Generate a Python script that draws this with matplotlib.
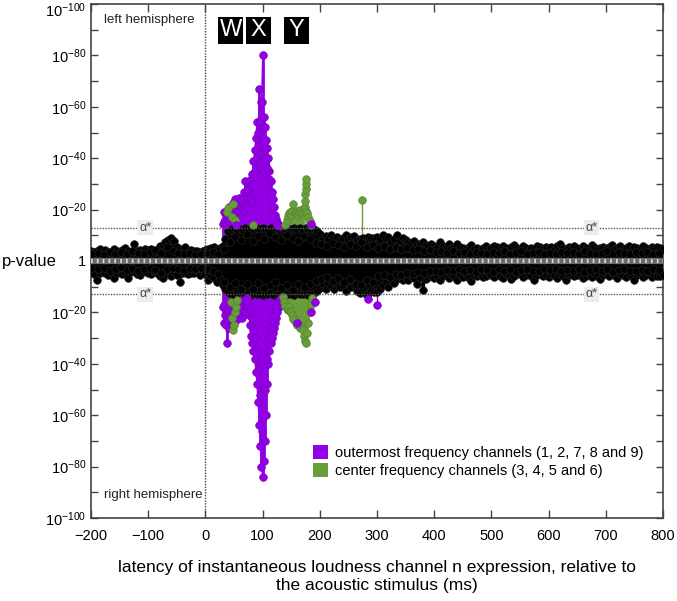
import numpy as np
import matplotlib
matplotlib.use('Agg')
import matplotlib.pyplot as plt
from matplotlib.patches import Rectangle, Patch
from matplotlib.transforms import ScaledTranslation

plt.rcParams['font.family'] = ['Liberation Sans', 'DejaVu Sans']
plt.rcParams['mathtext.fontset'] = 'custom'
plt.rcParams['mathtext.rm'] = 'Liberation Sans'
plt.rcParams['mathtext.it'] = 'Liberation Sans'

# -log10(p), positive = left hemisphere, negative = right hemisphere
alpha_star = 13.0

# non-significant channels (black), 5 ms grid
t_black = np.arange(-200, 801, 5)
left_black = [
    4.0, 3.4, 3.8, 4.5, 3.2, 4.3, 3.6, 3.2, 4.6, 3.9, 3.5, 4.1, 5.0, 3.7, 3.3, 6.8, 3.9, 4.4, 3.4, 4.6,
    4.2, 4.7, 3.6, 4.0, 5.8, 6.4, 7.2, 8.0, 9.0, 7.8, 5.5, 4.8, 4.3, 5.3, 3.6, 4.1, 3.8, 4.0, 3.4, 3.7,
    4.2, 4.6, 5.0, 5.5, 4.8, 5.2, 6.0, 8.5, 11.5, 12.5, 12.8, 12.2, 12.6, 12.0, 12.8, 12.4, 12.9, 12.5, 12.7, 12.3,
    12.8, 12.6, 12.2, 12.9, 12.4, 12.7, 12.0, 12.5, 12.8, 12.3, 12.6, 12.9, 12.4, 12.7, 12.2, 12.8, 12.5, 12.6, 12.3, 11.8,
    10.5, 9.0, 9.8, 8.5, 10.2, 8.8, 9.5, 8.0, 8.8, 10.0, 8.5, 9.2, 9.6, 8.0, 8.6, 9.0, 8.2, 9.5, 8.8, 9.0,
    9.2, 8.5, 10.0, 8.8, 9.3, 7.5, 8.4, 10.2, 7.8, 9.0, 8.2, 7.5, 7.0, 7.8, 6.5, 6.8, 7.5, 6.2, 5.8, 6.5,
    6.0, 5.4, 7.2, 5.8, 5.2, 6.5, 5.0, 5.6, 6.8, 5.3, 5.0, 4.8, 5.5, 6.2, 4.6, 5.1, 4.4, 5.0, 5.8, 4.7,
    5.2, 6.0, 5.5, 4.8, 5.9, 5.0, 4.6, 5.4, 6.3, 5.1, 4.5, 5.7, 5.0, 4.3, 5.2, 4.8, 6.0, 5.3, 4.6, 5.5,
    4.9, 5.6, 4.4, 5.8, 6.6, 5.0, 4.5, 5.3, 4.8, 5.9, 5.2, 4.6, 5.7, 5.0, 4.4, 6.1, 5.4, 4.7, 5.1, 5.6,
    4.8, 5.3, 6.2, 4.5, 5.0, 5.7, 4.6, 5.2, 5.9, 4.7, 5.4, 5.0, 4.5, 5.8, 5.1, 4.6, 5.3, 4.9, 5.6, 5.0,
    4.8]
right_black = [
    -4.2, -5.0, -7.5, -4.5, -3.8, -4.8, -5.5, -4.0, -6.8, -4.6, -3.9, -5.2, -4.4, -6.5, -4.1, -3.7, -4.9, -5.6, -4.3, -3.8,
    -4.6, -5.2, -4.0, -4.8, -6.0, -6.6, -5.0, -4.4, -5.8, -4.2, -5.5, -8.0, -4.8, -4.3, -5.0, -4.6, -4.8, -3.9, -5.3, -4.1,
    -5.0, -7.4, -5.8, -6.5, -8.2, -7.0, -9.5, -10.8, -12.0, -12.8, -13.2, -12.5, -13.0, -12.4, -13.3, -12.8, -13.1, -12.6, -13.0, -12.7,
    -13.2, -12.9, -13.0, -12.5, -13.3, -12.8, -12.6, -13.1, -12.4, -13.0, -12.7, -13.2, -12.5, -12.9, -13.0, -12.6, -13.1, -12.8, -12.4, -11.8,
    -10.5, -9.0, -10.8, -8.5, -9.8, -11.0, -8.8, -10.2, -9.5, -11.5, -8.0, -10.0, -9.2, -11.8, -12.5, -10.5, -12.8, -13.0, -11.2, -12.0,
    -12.2, -11.0, -9.5, -8.0, -10.0, -7.5, -8.6, -7.0, -6.8, -7.5, -6.5, -7.2, -6.0, -6.8, -9.0, -6.4, -11.3, -7.0, -6.2, -5.8,
    -6.5, -5.8, -7.2, -6.0, -5.4, -6.8, -5.2, -6.0, -7.5, -5.6, -6.2, -5.0, -6.6, -7.8, -5.5, -6.0, -5.2, -6.4, -5.8, -5.0,
    -5.5, -6.2, -4.8, -5.8, -6.8, -5.0, -5.4, -7.0, -6.0, -5.2, -4.6, -6.4, -5.6, -5.0, -6.0, -7.2, -5.3, -4.8, -5.9, -5.5,
    -6.2, -5.0, -5.6, -6.8, -4.9, -5.8, -7.4, -5.3, -5.0, -6.0, -5.5, -4.8, -6.5, -5.7, -5.1, -6.3, -4.7, -5.9, -7.0, -5.4,
    -5.2, -6.0, -4.8, -5.6, -6.6, -5.0, -5.5, -6.2, -4.9, -5.8, -7.2, -5.3, -5.0, -6.1, -5.6, -4.8, -6.4, -5.2, -5.9, -6.0,
    -5.5]

# second set of black channels, 10 ms grid shifted by 2.5 ms
t_black2 = np.arange(-197.5, 800, 10)
left_black2 = [
    2.8, 3.2, 2.5, 3.6, 2.9, 3.4, 2.6, 3.8, 3.0, 2.7, 3.5, 4.2, 3.1, 5.5, 4.0, 3.3, 2.6, 3.0, 2.4, 2.9,
    3.1, 3.6, 2.8, 4.5, 7.5, 9.5, 8.2, 10.5, 7.8, 9.8, 8.6, 10.8, 9.2, 8.0, 10.2, 9.0, 7.6, 9.6, 8.4, 7.0,
    6.5, 5.8, 7.0, 6.2, 5.5, 6.8, 6.0, 7.2, 5.6, 6.4, 5.2, 6.0, 4.8, 5.5, 4.6, 5.0, 4.2, 4.8, 3.9, 4.4,
    3.6, 4.0, 3.3, 3.8, 3.0, 3.5, 2.8, 3.6, 3.2, 2.7, 3.4, 3.0, 3.7, 2.9, 3.3, 3.9, 2.6, 3.1, 3.5, 2.8,
    3.2, 2.7, 3.6, 3.0, 3.4, 2.8, 3.7, 3.1, 2.6, 3.3, 3.8, 2.9, 3.5, 3.0, 2.7, 3.4, 3.1, 3.6, 2.8, 3.2]
right_black2 = [
    -2.8, -3.3, -2.6, -3.7, -3.0, -2.5, -3.4, -2.9, -3.8, -3.1, -2.7, -3.5, -4.5, -3.0, -2.6, -3.2, -3.6, -2.8, -3.1, -2.7,
    -3.3, -4.0, -5.2, -8.0, -10.0, -8.6, -10.8, -9.0, -11.0, -8.4, -10.4, -9.2, -8.0, -10.6, -9.4, -11.2, -8.8, -10.0, -9.0, -7.6,
    -7.0, -6.2, -7.8, -6.5, -8.2, -7.0, -8.8, -9.5, -7.5, -8.0, -6.0, -5.5, -6.2, -5.0, -5.6, -4.6, -5.2, -4.4, -4.8, -4.0,
    -3.8, -4.2, -3.5, -4.0, -3.2, -3.9, -3.4, -4.4, -3.0, -3.6, -4.1, -3.3, -3.8, -3.1, -4.3, -3.5, -3.0, -3.7, -4.0, -3.2,
    -3.6, -3.1, -4.0, -3.4, -3.8, -3.0, -4.2, -3.5, -3.2, -3.9, -3.3, -4.1, -3.6, -3.0, -3.7, -4.0, -3.4, -3.8, -3.1, -3.5]

# outermost frequency channels (purple)
t_purple_left = np.arange(30, 131, 2)
purple_left = [
    14.5, 19, 16, 18, 19.5, 17, 21, 18.5, 20, 22.5, 21, 24, 19, 22, 24.5, 23, 21.5, 23.5, 25, 27,
    31, 26, 28, 30, 31.5, 29, 34, 39, 43, 48, 54, 50, 67, 54, 62, 80, 56, 52, 47, 44,
    40, 35, 31, 27, 24, 21, 18, 16.5, 15, 14, 13.5]
t_purple_left2 = np.arange(33, 127, 3)
purple_left2 = [
    15, 14.5, 16, 15.5, 17, 16, 18, 17, 19, 18, 17.5, 20, 22, 21, 24, 25, 23, 30, 35, 40,
    45, 42, 62, 46, 38, 36, 32, 26, 21, 17, 15, 14]
t_purple_right = np.arange(30, 137, 2)
purple_right = [
    -18, -24, -21, -25, -32, -23, -26, -22, -25, -21, -24, -20, -23, -19, -22, -18, -21, -22, -19, -17,
    -20, -16, -18, -21, -25, -29, -32, -35, -38, -43, -48, -55, -64, -72, -80, -84, -78, -70, -60, -48,
    -40, -35, -32, -30, -28, -26, -24, -22, -20, -18, -17, -16, -15, -14]
t_purple_right2 = np.arange(33, 133, 3)
purple_right2 = [
    -17, -19, -20, -18, -21, -17, -19, -18, -16, -17, -15, -16, -15, -14.5, -16, -19, -22, -27, -30, -36,
    -42, -52, -66, -60, -50, -38, -30, -26, -23, -21, -19, -17, -15, -14.5]
t_purple_extra = [185, 54, 284, 300, 160, 184, 192]
purple_extra = [14.5, 14, -14.6, -17, -24, -20, -16]

# center frequency channels (green)
t_green_left = np.arange(140, 185, 2)
green_left = [
    14, 16, 17.5, 18.5, 19, 18, 19.5, 22, 19, 18.5, 19.5, 18, 19, 20, 19, 19.5, 20.5, 21, 19.5, 18.5,
    17, 15.5, 14]
t_green_chain = [174, 174, 175, 175, 176]
green_chain = [23.5, 26, 28, 30, 32]
t_green_right = np.arange(136, 187, 2)
green_right = [
    -14, -16, -17.5, -18.5, -19, -18, -19.5, -20, -21, -22.5, -23, -24, -25, -24.5, -25, -26, -25.5, -27, -29, -31,
    -32, -28, -24, -20, -17, -14.5]
t_green_early = [38, 40, 46, 49, 52, 84, 273, 44, 46, 48, 50, 52, 54, 56]
green_early = [19, 20.5, 17, 22, 16, 14, 23.7, -16, -22, -27, -25, -20, -18, -15]

purple = '#9300E6'
purple_dark = '#7a00c0'
green = '#6A9E3A'
green_dark = '#578530'

fig = plt.figure(figsize=(6.77, 6.01), dpi=100)
ax = fig.add_axes([91 / 677, 83 / 601, 572 / 677, 514 / 601])


def stems(t, v, color, lw, z):
    ax.vlines(t, 0, v, colors=color, lw=lw, zorder=z)


def points(t, v, color, edge, z, line=True, ms=5.5):
    if line:
        ax.plot(t, v, '-', color=color, lw=0.8, zorder=z)
    ax.plot(t, v, 'o', color=color, mec=edge, mew=0.5, ms=ms, zorder=z + 0.1)


# colored stems underneath
for t, v in [(t_purple_left, purple_left), (t_purple_right, purple_right),
             (t_purple_left2, purple_left2), (t_purple_right2, purple_right2)]:
    stems(t, v, purple, 2.0, 2)
stems(t_purple_extra, purple_extra, purple, 1.0, 2)
for t, v in [(t_green_left, green_left), (t_green_right, green_right)]:
    stems(t, v, green, 2.0, 2.2)
stems(t_green_early, green_early, green, 1.0, 2.2)
stems(t_green_chain, green_chain, '#9cc47a', 1.0, 2.2)

# black channels
for t, v in [(t_black, left_black), (t_black, right_black), (t_black2, left_black2), (t_black2, right_black2)]:
    stems(t, v, 'black', 2.4, 3)
    points(t, v, 'black', '#222222', 3.2)

# colored points on top
points(t_purple_left, purple_left, purple, purple_dark, 4)
points(t_purple_left2, purple_left2, purple, purple_dark, 4)
points(t_purple_right, purple_right, purple, purple_dark, 4)
points(t_purple_right2, purple_right2, purple, purple_dark, 4)
points(t_green_left, green_left, green, green_dark, 4.5)
points(t_green_chain, green_chain, green, green_dark, 4.5)
points(t_green_right, green_right, green, green_dark, 4.5)
points(t_green_early, green_early, green, green_dark, 4.5, line=False)
points(t_purple_extra, purple_extra, purple, purple_dark, 5, line=False)

# baseline stripe at p = 1
ax.axhline(0, color='#6a6a6a', lw=4.5, zorder=6)
ax.axhline(0, color='#d8d8d8', lw=3.0, ls=(0, (0.4, 1.0)), zorder=6.1)

# alpha* thresholds and stimulus onset
for y in (alpha_star, -alpha_star):
    ax.axhline(y, color='#555555', lw=1.0, ls=(0, (1, 1)), zorder=7)
    for x in (-105, 675):
        ax.text(x, y, '\u03b1*', ha='center', va='center', fontsize=9, color='#444444', zorder=8,
                bbox=dict(boxstyle='square,pad=0.15', fc='#ececec', ec='none'))
ax.axvline(0, color='#444444', lw=1.0, ls=(0, (1, 1)), zorder=7)

ax.text(0.023, 0.969, 'left hemisphere', transform=ax.transAxes, ha='left', va='center',
        fontsize=9.5, color='#222222')
ax.text(0.023, 0.045, 'right hemisphere', transform=ax.transAxes, ha='left', va='center',
        fontsize=9.5, color='#222222')

# W X Y component boxes
trans = ax.get_xaxis_transform()
for label, x0, x1 in [('W', 22.7, 66.4), ('X', 70.3, 114.7), ('Y', 136.9, 180.6)]:
    ax.add_patch(Rectangle((x0, 0.922), x1 - x0, 0.053, transform=trans, fc='black', ec='none', zorder=9))
    ax.text((x0 + x1) / 2, 0.9485, label, transform=trans, ha='center', va='center', color='white',
            fontsize=17, zorder=10)

ax.set_xlim(-200, 800)
ax.set_ylim(-100, 100)
ax.set_xticks(np.arange(-200, 801, 100))
ax.set_yticks(np.arange(-100, 101, 20))
ax.set_yticks(np.arange(-90, 100, 20), minor=True)
ax.set_yticklabels(['1' if v == 0 else '$10^{-%d}$' % abs(v) for v in np.arange(-100, 101, 20)])
ax.tick_params(axis='both', which='both', direction='in', top=True, right=True, labelsize=10.5,
               color='#444444', length=5, width=1)
ax.tick_params(axis='x', which='both', top=True, length=6, pad=8)
for s in ax.spines.values():
    s.set_color('#444444')
    s.set_linewidth(1.2)

# nudge the topmost y label down so it stays inside the figure
top_label = ax.get_yticklabels()[-1]
top_label.set_transform(top_label.get_transform() + ScaledTranslation(0, -4 / 72, fig.dpi_scale_trans))

ax.set_xlabel('latency of instantaneous loudness channel n expression, relative to\n'
              'the acoustic stimulus (ms)', fontsize=12.5, linespacing=1.3, labelpad=12)
fig.text(0.003, 1 - 261 / 601, 'p-value', ha='left', va='center', fontsize=12)

handles = [Patch(fc=purple, ec='none', label='outermost frequency channels (1, 2, 7, 8 and 9)'),
           Patch(fc=green, ec='none', label='center frequency channels (3, 4, 5 and 6)')]
ax.legend(handles=handles, loc='upper left', bbox_to_anchor=(0.3785, 0.154), frameon=False,
          fontsize=10.5, handlelength=1.0, handleheight=1.1, handletextpad=0.5,
          labelspacing=0.25, borderaxespad=0)

fig.savefig('out.png', dpi=100)
